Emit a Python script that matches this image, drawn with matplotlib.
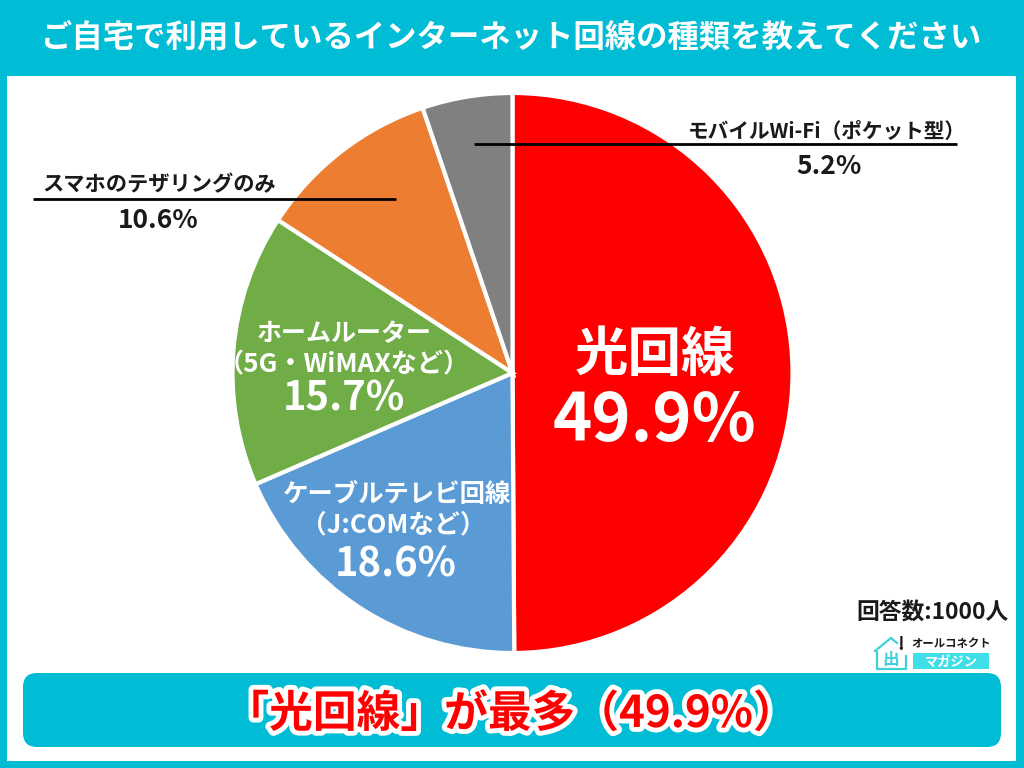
import matplotlib
matplotlib.use("Agg")
import matplotlib.pyplot as plt
import matplotlib.patheffects as pe
from matplotlib.patches import Rectangle, FancyBboxPatch

plt.rcParams['font.family'] = ['Noto Sans CJK JP', 'DejaVu Sans']

TITLE = "ご自宅で利用しているインターネット回線の種類を教えてください"
VALUES = [49.9, 18.6, 15.7, 10.6, 5.2]
COLORS = ["#ff0000", "#5b9bd5", "#70ad47", "#ed7d31", "#808080"]
CYAN = "#00bcd4"
LP, RP = "\uff08", "\uff09"

W, H = 1024, 768
fig = plt.figure(figsize=(10.24, 7.68), dpi=100, facecolor=CYAN)
ax = fig.add_axes([0, 0, 1, 1])

def Y(py):
    return H - py

ax.add_patch(Rectangle((7, Y(761)), 1009, 685, fc="white", ec="none", zorder=0))
ax.pie(VALUES, colors=COLORS, startangle=90, counterclock=False, center=(512.5, Y(373)), radius=280,
       wedgeprops=dict(edgecolor="white", linewidth=3), frame=False)
ax.set_xlim(0, W)
ax.set_ylim(0, H)
ax.set_aspect("auto")
ax.axis("off")

def label(x, py, s, size, color="white", **kw):
    ax.text(x, Y(py), s, fontsize=size, color=color, ha="center", va="center", fontweight="bold", **kw)

DARK = "#1a1a1a"
label(512, 37, TITLE, 22.6)

label(655, 355, "光回線", 38.5)
label(654, 421, f"{VALUES[0]}%", 48)

label(397, 495, "ケーブルテレビ回線", 18.3)
label(393.5, 525, f"{LP}J:COMなど{RP}", 18.5)
label(396, 565, f"{VALUES[1]}%", 28.7)

label(344, 334, "ホームルーター", 18)
label(344, 365, f"{LP}5G・WiMAXなど{RP}", 18.8)
label(344, 399, f"{VALUES[2]}%", 28.8)

label(159, 185, "スマホのテザリングのみ", 15.3, color=DARK)
label(158, 220, f"{VALUES[3]}%", 19, color=DARK)
ax.plot([33, 396], [Y(198.5)] * 2, color="black", lw=2, solid_capstyle="butt")

label(826.5, 131, f"モバイルWi-Fi{LP}ポケット型{RP}", 14.9, color=DARK)
label(829, 167, f"{VALUES[4]}%", 19, color=DARK)
ax.plot([474, 957], [Y(144)] * 2, color="black", lw=2, solid_capstyle="butt")

label(933, 612, "回答数:1000人", 16.4, color=DARK)

# logo
ax.text(951, Y(644), "オールコネクト", fontsize=8.2, fontweight="bold", color=DARK, ha="center", va="center")
ax.add_patch(Rectangle((913, Y(669)), 76, 16, fc="#3fdfea", ec="none"))
ax.text(951, Y(662), "マガジン", fontsize=9.5, fontweight="bold", color="white", ha="center", va="center")
ax.plot([877, 877, 906, 906], [Y(652), Y(669), Y(669), Y(656)], color="#3fd0dc", lw=1.6)
ax.plot([875, 891, 897], [Y(651), Y(638), Y(643)], color="#3fd0dc", lw=1.6)
ax.text(891, Y(660), "出", fontsize=12, fontweight="bold", color="#3fd0dc", ha="center", va="center")
ax.text(901, Y(645), "!", fontsize=13, fontweight="bold", color=DARK, ha="center", va="center")

# bottom banner
ax.add_patch(FancyBboxPatch((23, Y(747)), 978, 74, boxstyle="round,pad=0,rounding_size=14", fc=CYAN, ec="none", zorder=1))
halo = [pe.withStroke(linewidth=7, foreground="white")]
ax.text(511, Y(714), f"「光回線」が最多{LP}49.9%{RP}", fontsize=31.5, fontweight="bold", color="#ff0000",
        ha="center", va="center", path_effects=halo, zorder=3)

fig.savefig("out.png", dpi=100, facecolor=fig.get_facecolor())
